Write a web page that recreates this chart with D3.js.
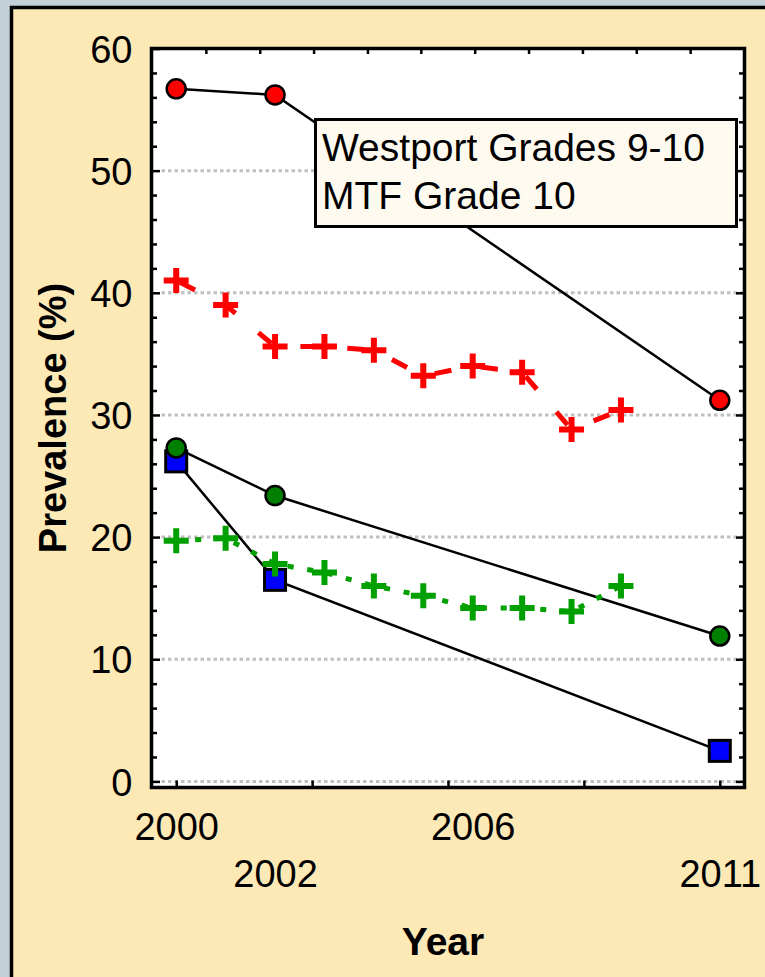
<!DOCTYPE html>
<html><head><meta charset="utf-8">
<script src="https://cdn.jsdelivr.net/npm/d3@7"></script>
<style>
html,body{margin:0;padding:0;background:#c4d0d8;overflow:hidden;}
svg{display:block;}
</style></head>
<body>
<svg id="chart" width="765" height="977"></svg>
<script>
// ---- data ----
const westportYears = [2000, 2002, 2011];
const westportRed   = [56.7, 56.2, 31.2];
const westportGreen = [27.3, 23.4, 11.9];
const westportBlue  = [26.2, 16.5, 2.5];

const mtfYears = [2000, 2001, 2002, 2003, 2004, 2005, 2006, 2007, 2008, 2009];
const mtfRed   = [41.0, 39.0, 35.6, 35.6, 35.3, 33.2, 34.0, 33.5, 28.8, 30.4];
const mtfGreen = [19.7, 19.9, 17.8, 17.1, 16.0, 15.2, 14.2, 14.2, 13.9, 16.0];

const yMajorTicks = [0, 10, 20, 30, 40, 50, 60];
const yMinorTicks = [2,4,6,8,12,14,16,18,22,24,26,28,32,34,36,38,42,44,46,48,52,54,56,58];
const gridValues  = [0, 10, 20, 30, 40, 50];
const xLabelYears = [2000, 2002, 2006, 2011];
const xLabelRows  = [0, 1, 0, 1];
const xBottomTicks = [2000, 2002.75, 2005.5, 2008.25, 2011];
const xTopTicks = [2000.6, 2001.69, 2002.78, 2003.87, 2004.95, 2006.04, 2007.13, 2008.22, 2009.31, 2010.4];
const legendLines = ["Westport Grades 9-10", "MTF Grade 10"];

// ---- drawing ----
const svg = d3.select("#chart");
const FONT = "'Liberation Sans', Arial, sans-serif";

// panel
svg.append("rect").attr("x", 11.5).attr("y", 7.5).attr("width", 800).attr("height", 1000)
  .attr("fill", "#fde9b6").attr("stroke", "#000").attr("stroke-width", 3.5);

const x = d3.scaleLinear().domain([1999.5, 2011.5]).range([151.5, 744.5]);
const y = d3.scaleLinear().domain([-0.5, 60]).range([787.5, 48.5]);
const [X0, X1] = x.range();
const [Y0, Y1] = y.range();

// plot background
svg.append("rect").attr("x", X0).attr("y", Y1).attr("width", X1 - X0).attr("height", Y0 - Y1).attr("fill", "#fff");

// gridlines
svg.append("g").selectAll("line").data(gridValues).join("line")
  .attr("x1", X0 + 10).attr("x2", X1).attr("y1", d => y(d)).attr("y2", d => y(d))
  .attr("stroke", "#c0c0c0").attr("stroke-width", 3).attr("stroke-dasharray", "3.5,3");

// Westport lines
const lineW = d3.line().x((d, i) => x(westportYears[i])).y(d => y(d));
[westportRed, westportGreen, westportBlue].forEach(s => {
  svg.append("path").attr("d", lineW(s)).attr("fill", "none").attr("stroke", "#000").attr("stroke-width", 2.5);
});

// blue squares
svg.append("g").selectAll("rect").data(westportBlue).join("rect")
  .attr("x", (d, i) => x(westportYears[i]) - 10.5).attr("y", d => y(d) - 10.5)
  .attr("width", 21).attr("height", 21)
  .attr("fill", "#0000ff").attr("stroke", "#000").attr("stroke-width", 3);

// red circles
svg.append("g").selectAll("circle").data(westportRed).join("circle")
  .attr("cx", (d, i) => x(westportYears[i])).attr("cy", d => y(d)).attr("r", 9.5)
  .attr("fill", "#ff0000").attr("stroke", "#000").attr("stroke-width", 2.5);

// green circles
svg.append("g").selectAll("circle").data(westportGreen).join("circle")
  .attr("cx", (d, i) => x(westportYears[i])).attr("cy", d => y(d)).attr("r", 9.5)
  .attr("fill", "#007f00").attr("stroke", "#000").attr("stroke-width", 2.5);

// MTF dashed lines
const lineM = d3.line().x((d, i) => x(mtfYears[i])).y(d => y(d));
svg.append("path").attr("d", lineM(mtfRed)).attr("fill", "none").attr("stroke", "#ff0000")
  .attr("stroke-width", 5).attr("stroke-dasharray", "17,30").attr("stroke-dashoffset", 43);
svg.append("path").attr("d", lineM(mtfGreen)).attr("fill", "none").attr("stroke", "#00a000")
  .attr("stroke-width", 5).attr("stroke-dasharray", "6,13.8").attr("stroke-dashoffset", 0.8);

// plus markers
function plus(cx, cy) {
  const a = 12.5, t = 3;
  return `M${cx - a},${cy - t}h${2 * a}v${2 * t}h${-2 * a}z M${cx - t},${cy - a}h${2 * t}v${2 * a}h${-2 * t}z`;
}
svg.append("g").selectAll("path").data(mtfRed).join("path")
  .attr("d", (d, i) => plus(x(mtfYears[i]), y(d))).attr("fill", "#ff0000");
svg.append("g").selectAll("path").data(mtfGreen).join("path")
  .attr("d", (d, i) => plus(x(mtfYears[i]), y(d))).attr("fill", "#00a000");

// legend
const lg = svg.append("g");
lg.append("rect").attr("x", 315.5).attr("y", 119.5).attr("width", 421).attr("height", 107)
  .attr("fill", "#fffaf0").attr("stroke", "#000").attr("stroke-width", 3);
lg.selectAll("text").data(legendLines).join("text")
  .attr("x", 322).attr("y", (d, i) => 161 + i * 48)
  .attr("font-family", FONT).attr("font-size", 39).attr("fill", "#000").text(d => d);

// axes
function styleAxis(g) {
  g.select(".domain").remove();
  g.selectAll(".tick line").attr("stroke", "#000").attr("stroke-width", 2.5);
}
svg.append("g").attr("transform", `translate(${X0},0)`)
  .call(d3.axisLeft(y).tickValues(yMinorTicks).tickSize(-5.5).tickFormat("")).call(styleAxis);
svg.append("g").attr("transform", `translate(${X0},0)`)
  .call(d3.axisLeft(y).tickValues(yMajorTicks).tickSize(-8.5).tickPadding(19)).call(styleAxis)
  .selectAll("text").attr("font-family", FONT).attr("font-size", 38).attr("fill", "#000").attr("dy", "0.36em");
svg.append("g").attr("transform", `translate(${X1},0)`)
  .call(d3.axisRight(y).tickValues(yMinorTicks).tickSize(-5.5).tickFormat("")).call(styleAxis);
svg.append("g").attr("transform", `translate(${X1},0)`)
  .call(d3.axisRight(y).tickValues(yMajorTicks.slice(0, 6)).tickSize(-8.5).tickFormat("")).call(styleAxis);
svg.append("g").attr("transform", `translate(0,${Y0})`)
  .call(d3.axisBottom(x).tickValues(xBottomTicks).tickSize(-7).tickFormat("")).call(styleAxis);
svg.append("g").attr("transform", `translate(0,${Y1})`)
  .call(d3.axisTop(x).tickValues(xTopTicks).tickSize(-5.5).tickFormat("")).call(styleAxis);
const xl = svg.append("g").attr("transform", `translate(0,${Y0})`)
  .call(d3.axisBottom(x).tickValues(xLabelYears).tickSize(0).tickFormat(d3.format("d")));
xl.select(".domain").remove();
xl.selectAll("text").attr("font-family", FONT).attr("font-size", 38).attr("fill", "#000")
  .attr("y", (d, i) => 52.5 + xLabelRows[i] * 47).attr("dy", 0);

// frame
svg.append("rect").attr("x", X0).attr("y", Y1).attr("width", X1 - X0).attr("height", Y0 - Y1)
  .attr("fill", "none").attr("stroke", "#000").attr("stroke-width", 3.5);

// titles
svg.append("text").attr("transform", `translate(66,${(Y0 + Y1) / 2}) rotate(-90)`)
  .attr("text-anchor", "middle").attr("font-family", FONT).attr("font-weight", "bold")
  .attr("font-size", 38).attr("fill", "#000").text("Prevalence (%)");
svg.append("text").attr("x", 443).attr("y", 955).attr("text-anchor", "middle")
  .attr("font-family", FONT).attr("font-weight", "bold").attr("font-size", 39).attr("fill", "#000").text("Year");
</script>
</body></html>
